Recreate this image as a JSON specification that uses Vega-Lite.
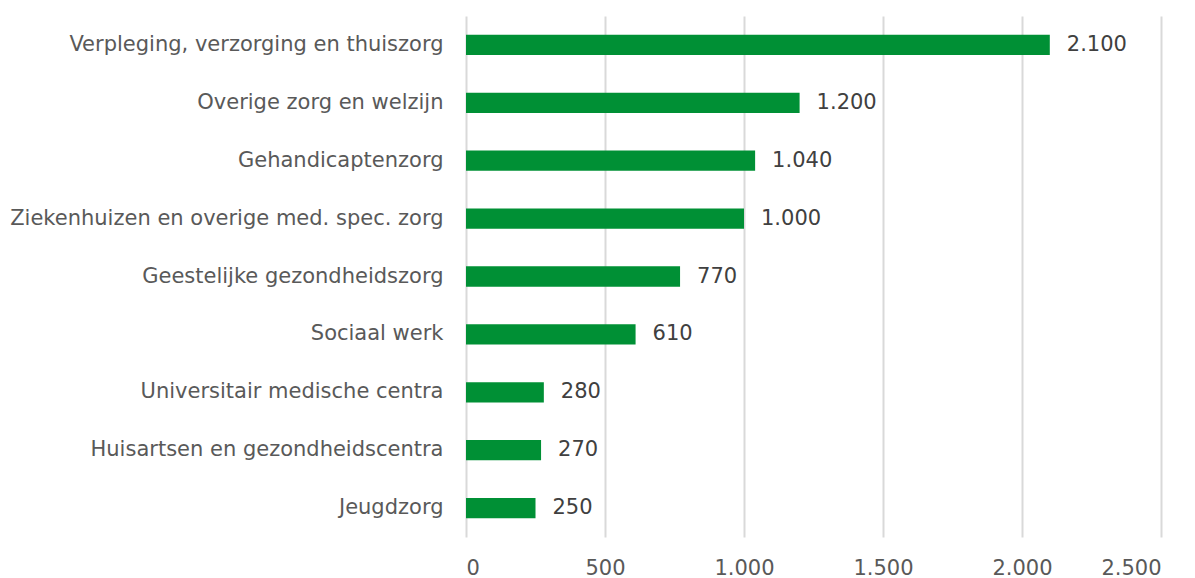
{
  "$schema": "https://vega.github.io/schema/vega-lite/v6.json",
  "width": 695,
  "height": 521,
  "autosize": {"type": "none"},
  "padding": {"left": 466, "top": 16, "right": 34, "bottom": 41},
  "background": "white",
  "config": {
    "view": {"stroke": null},
    "locale": {"number": {"decimal": ",", "thousands": ".", "grouping": [3], "currency": ["€", ""]}},
    "font": "DejaVu Sans"
  },
  "data": {
    "values": [
      {"sector": "Verpleging, verzorging en thuiszorg", "value": 2100},
      {"sector": "Overige zorg en welzijn", "value": 1200},
      {"sector": "Gehandicaptenzorg", "value": 1040},
      {"sector": "Ziekenhuizen en overige med. spec. zorg", "value": 1000},
      {"sector": "Geestelijke gezondheidszorg", "value": 770},
      {"sector": "Sociaal werk", "value": 610},
      {"sector": "Universitair medische centra", "value": 280},
      {"sector": "Huisartsen en gezondheidscentra", "value": 270},
      {"sector": "Jeugdzorg", "value": 250}
    ]
  },
  "encoding": {
    "y": {
      "field": "sector", "type": "nominal", "sort": null, "title": null,
      "scale": {"paddingInner": 0.65, "paddingOuter": 0.325},
      "axis": {"domain": false, "ticks": false, "labelPadding": 23, "labelFontSize": 21, "labelColor": "#595959", "labelLimit": 500, "grid": false}
    },
    "x": {
      "field": "value", "type": "quantitative", "title": null,
      "scale": {"domain": [0, 2500], "nice": false},
      "axis": {"values": [0, 500, 1000, 1500, 2000, 2500], "format": ",.0f", "domain": false, "ticks": false, "labelPadding": 20, "labelFontSize": 21, "labelColor": "#595959", "gridColor": "#d9d9d9", "gridWidth": 2}
    }
  },
  "layer": [
    {"mark": {"type": "bar", "color": "#009035"}},
    {"mark": {"type": "text", "align": "left", "dx": 17, "fontSize": 21, "color": "#404040"},
     "encoding": {"text": {"field": "value", "type": "quantitative", "format": ",.0f"}}}
  ]
}
